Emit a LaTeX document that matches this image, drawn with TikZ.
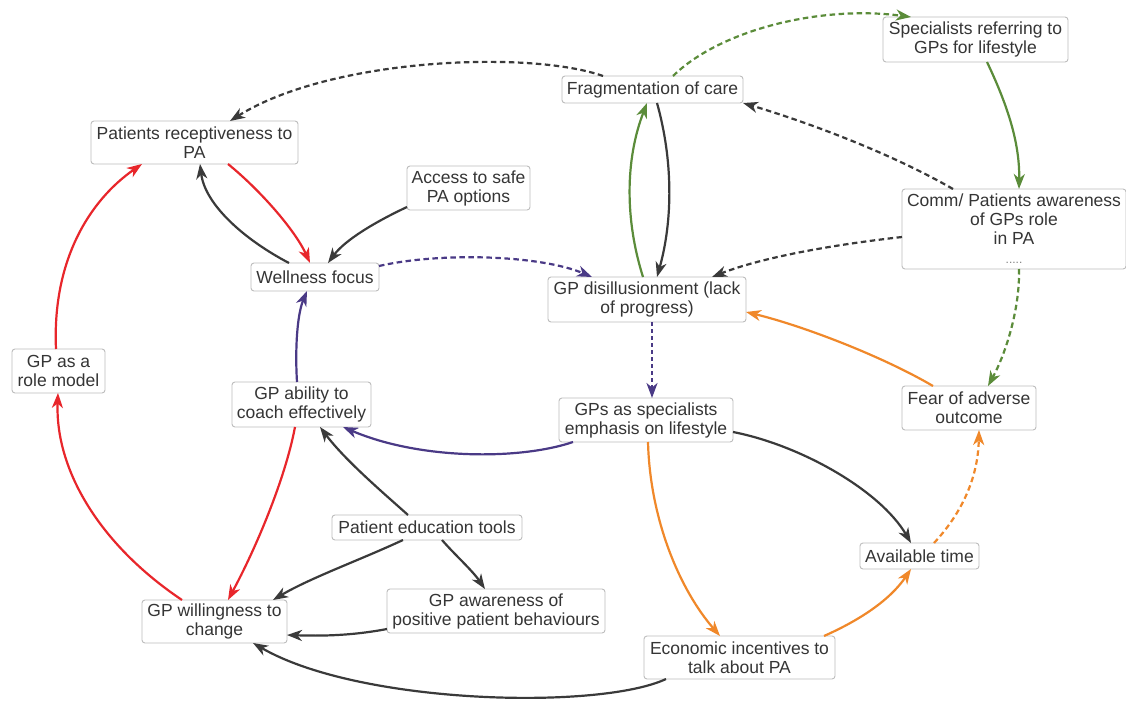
\documentclass[tikz,border=0pt]{standalone}
\usepackage{fontspec}
\setmainfont{Liberation Sans}
\usetikzlibrary{arrows.meta,calc}
\definecolor{cdark}{HTML}{3A3A3A}
\definecolor{cred}{HTML}{E8262B}
\definecolor{cgreen}{HTML}{5B8C3A}
\definecolor{cpurple}{HTML}{4A3A86}
\definecolor{corange}{HTML}{F0882A}
\definecolor{ctext}{HTML}{353535}
\definecolor{cborder}{HTML}{BDBDBD}
\tikzset{
  box/.style={draw=cborder, line width=0.9pt, rounded corners=3pt, fill=white,
    align=center, text=ctext, inner xsep=3pt, inner ysep=1pt,
    font=\fontsize{17.5}{19}\selectfont},
  link/.style={line width=2.2pt, -{Stealth[length=15pt,width=11pt,inset=4.5pt]}},
  dashlink/.style={link, dash pattern=on 5.5pt off 3.5pt},
}
\begin{document}
\begin{tikzpicture}[x=1pt,y=-1pt]
\useasboundingbox (0,0) rectangle (1126,701);
\fill[white] (0,0) rectangle (1126,701);

% nodes
\node[box, minimum width=207, minimum height=43] (PR) at (194.5,142.5) {Patients receptiveness to\\PA};
\node[box, minimum width=123, minimum height=44] (AS) at (468.5,188) {Access to safe\\PA options};
\node[box, minimum width=128, minimum height=28] (WF) at (315,277) {Wellness focus};
\node[box, minimum width=181, minimum height=27] (FC) at (652.5,89.5) {Fragmentation of care};
\node[box, minimum width=185, minimum height=45] (SR) at (975.5,39.5) {Specialists referring to\\GPs for lifestyle};
\node[box, minimum width=224, minimum height=80] (CP) at (1014,229) {Comm/ Patients awareness\\of GPs role\\in PA\\{\color{gray}\fontsize{12}{19}\selectfont .....}};
\node[box, minimum width=198, minimum height=45] (GD) at (647,299.5) {GP disillusionment (lack\\of progress)};
\node[box, minimum width=174, minimum height=44] (GS) at (646,420) {GPs as specialists\\emphasis on lifestyle};
\node[box, minimum width=134, minimum height=44] (FA) at (969,408) {Fear of adverse\\outcome};
\node[box, minimum width=119, minimum height=26] (AT) at (919.5,556) {Available time};
\node[box, minimum width=191, minimum height=43] (EI) at (739.5,657.5) {Economic incentives to\\talk about PA};
\node[box, minimum width=218, minimum height=44] (GA) at (496,611) {GP awareness of\\positive patient behaviours};
\node[box, minimum width=190, minimum height=25] (PE) at (427,527.5) {Patient education tools};
\node[box, minimum width=145, minimum height=43] (GW) at (214.5,621.5) {GP willingness to\\change};
\node[box, minimum width=139, minimum height=45] (AC) at (301.5,404.5) {GP ability to\\coach effectively};
\node[box, minimum width=93, minimum height=44] (RM) at (58.5,371) {GP as a\\role model};

% connectors
\draw[dashlink, cdark] ($(FC)+(-49.5,-13.5)$) .. controls (530,50) and (330,58) .. ($(PR)+(35.5,-21.5)$);
\draw[dashlink, cgreen] ($(FC)+(20.5,-13.5)$) .. controls (720,30) and (820,5) .. ($(SR)+(-64.5,-22.5)$);
\draw[link, cgreen] ($(SR)+(11.5,22.5)$) .. controls (1005,100) and (1020,140) .. ($(CP)+(5,-40)$);
\draw[dashlink, cdark] ($(CP)+(-61,-40)$) .. controls (885,150) and (800,120) .. ($(FC)+(90.5,13.5)$);
\draw[dashlink, cdark] ($(CP)+(-112,8)$) .. controls (830,245) and (760,258) .. ($(GD)+(65,-22.5)$);
\draw[dashlink, cgreen] ($(CP)+(5,40)$) .. controls (1020,310) and (1005,355) .. ($(FA)+(19,-22)$);
\draw[link, cdark] ($(FC)+(4.5,13.5)$) .. controls (673,160) and (673,220) .. ($(GD)+(10,-22.5)$);
\draw[link, cgreen] ($(GD)+(-4,-22.5)$) .. controls (625,220) and (625,160) .. ($(FC)+(-5.5,13.5)$);
\draw[dashlink, cpurple] ($(WF)+(64,-11)$) .. controls (440,252) and (540,255) .. ($(GD)+(-55,-22.5)$);
\draw[dashlink, cpurple, dash pattern=on 4pt off 3pt] ($(GD)+(5,22.5)$) -- ($(GS)+(6,-22)$);
\draw[link, corange] ($(FA)+(-36,-22)$) .. controls (880,355) and (800,325) .. ($(GD)+(99,12.5)$);
\draw[dashlink, corange] ($(AT)+(14.5,-13)$) .. controls (960,515) and (978,480) .. ($(FA)+(10,22)$);
\draw[link, cdark] ($(GS)+(87,12)$) .. controls (800,445) and (880,490) .. ($(AT)+(-8.5,-13)$);
\draw[link, corange] ($(GS)+(2,22)$) .. controls (650,520) and (680,590) .. ($(EI)+(-19.5,-21.5)$);
\draw[link, corange] ($(EI)+(84.5,-21.5)$) .. controls (860,620) and (890,600) .. ($(AT)+(-8.5,13)$);
\draw[link, cdark] ($(EI)+(-73.5,21.5)$) .. controls (600,710) and (360,705) .. ($(GW)+(38.5,21.5)$);
\draw[link, cpurple] ($(GS)+(-73,22)$) .. controls (520,460) and (420,460) .. ($(AC)+(41.5,22.5)$);
\draw[link, cpurple] ($(AC)+(-4.5,-22.5)$) .. controls (295,350) and (297,315) .. ($(WF)+(-8,14)$);
\draw[link, cred] ($(AC)+(-6.5,22.5)$) .. controls (285,480) and (255,550) .. ($(GW)+(13.5,-21.5)$);
\draw[link, cred] ($(GW)+(-32.5,-21.5)$) .. controls (100,545) and (55,470) .. ($(RM)+(-0.5,22)$);
\draw[link, cred] ($(RM)+(-2.5,-22)$) .. controls (52,260) and (90,200) .. ($(PR)+(-52.5,21.5)$);
\draw[link, cred] ($(PR)+(33.5,21.5)$) .. controls (260,190) and (295,230) .. ($(WF)+(-5,-14)$);
\draw[link, cdark] ($(WF)+(-26,-14)$) .. controls (245,240) and (205,205) .. ($(PR)+(5.5,21.5)$);
\draw[link, cdark] ($(AS)+(-61.5,19)$) .. controls (375,222) and (345,240) .. ($(WF)+(13,-14)$);
\draw[link, cdark] ($(PE)+(-19,-12.5)$) .. controls (380,490) and (345,460) .. ($(AC)+(18.5,22.5)$);
\draw[link, cdark] ($(PE)+(-24,12.5)$) .. controls (360,560) and (310,578) .. ($(GW)+(58.5,-21.5)$);
\draw[link, cdark] ($(PE)+(15,12.5)$) .. controls (455,555) and (472,570) .. ($(GA)+(-11,-22)$);
\draw[link, cdark] ($(GA)+(-109,18)$) .. controls (350,636) and (320,636) .. ($(GW)+(72.5,13.5)$);
\end{tikzpicture}
\end{document}
